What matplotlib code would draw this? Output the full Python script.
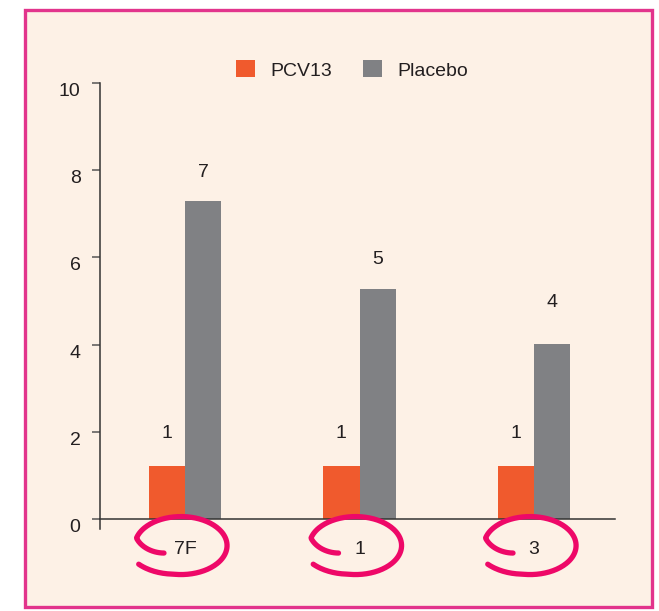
import numpy as np
import matplotlib
matplotlib.use('Agg')
import matplotlib.pyplot as plt
from matplotlib.patches import Rectangle, Patch

serotypes = ['7F', '1', '3']
pcv13 = [1.22, 1.22, 1.22]
placebo = [7.29, 5.28, 4.01]
pcv13_counts = [1, 1, 1]
placebo_counts = [7, 5, 4]
yticks = [0, 2, 4, 6, 8, 10]

orange = '#F05A2D'
grey = '#808184'
pink = '#EE0868'
border = '#E2348C'
peach = '#FDF1E6'
ink = '#231F20'
fs = 14

plt.rcParams['font.family'] = ['Liberation Sans', 'DejaVu Sans']

fig = plt.figure(figsize=(6.59, 6.11), dpi=100, facecolor='white')

# peach panel with pink frame
panel = Rectangle((25 / 659, 4 / 611), 627 / 659, 597 / 611, transform=fig.transFigure,
                  facecolor=peach, edgecolor=border, linewidth=2.4, zorder=-1)
fig.add_artist(panel)

ax = fig.add_axes([100 / 659, 1 - 529 / 611, 515 / 659, 446 / 611])
ax.set_facecolor('none')

x = np.arange(len(serotypes))
w = 0.209
ax.bar(x - w / 2, pcv13, width=w, color=orange, label='PCV13', zorder=2)
ax.bar(x + w / 2, placebo, width=w, color=grey, label='Placebo', zorder=2)

# count labels sit about one unit above their own value
for i in range(len(serotypes)):
    ax.text(x[i] - w / 2, pcv13_counts[i] + 1, str(pcv13_counts[i]), ha='center',
            va='center_baseline', fontsize=fs, color=ink)
    ax.text(x[i] + w / 2, placebo_counts[i] + 1, str(placebo_counts[i]), ha='center',
            va='center_baseline', fontsize=fs, color=ink)

ax.set_xlim(-0.487, 2.464)
ax.set_ylim(-0.23, 10)

for s in ['top', 'right']:
    ax.spines[s].set_visible(False)
ax.spines['bottom'].set_position(('data', 0))
ax.spines['bottom'].set_color('#333333')
ax.spines['left'].set_color('#333333')
ax.spines['bottom'].set_linewidth(1.1)
ax.spines['left'].set_linewidth(1.1)

ax.set_yticks(yticks)
ax.set_yticklabels([str(v) for v in yticks])
ax.tick_params(axis='y', length=6, width=1.1, color='#555555', pad=8,
               labelsize=fs, labelcolor=ink)
for lbl in ax.get_yticklabels():
    lbl.set_verticalalignment('top')

ax.set_xticks(x)
ax.set_xticklabels(serotypes)
ax.tick_params(axis='x', length=0, pad=16, labelsize=fs, labelcolor=ink)

# hand-drawn loops round the serotype labels
theta = np.linspace(np.radians(215), np.radians(-145), 200)
deg = np.degrees(theta)
scale = np.interp(deg, [-145, -100, 165, 215], [1.12, 1.0, 1.0, 0.45])
for i in range(len(serotypes)):
    cx = x[i] - 0.023
    cy = -0.61
    lx = cx + 0.264 * scale * np.cos(theta)
    ly = cy + 0.665 * scale * np.sin(theta)
    ax.plot(lx, ly, color=pink, linewidth=3.8, solid_capstyle='round',
            clip_on=False, zorder=5)

handles = [Patch(facecolor=orange), Patch(facecolor=grey)]
ax.legend(handles, ['PCV13', 'Placebo'], loc='center', ncol=2, frameon=False,
          bbox_to_anchor=(352 / 659, 1 - 70 / 611), bbox_transform=fig.transFigure,
          handlelength=0.95, handleheight=0.95, handletextpad=0.8, columnspacing=1.6,
          fontsize=fs, labelcolor=ink)

fig.savefig('out.png', dpi=100, facecolor='white')
